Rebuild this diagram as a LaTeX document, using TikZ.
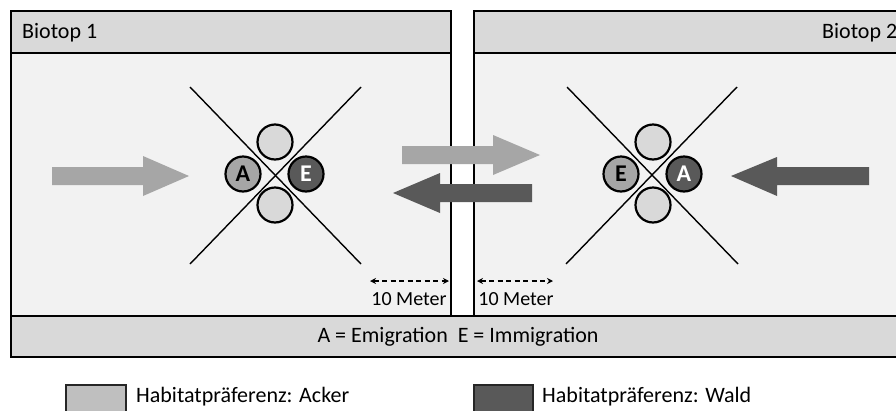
\documentclass[tikz,border=0pt]{standalone}
\usepackage{fontspec}
\setmainfont{Carlito}
\usetikzlibrary{arrows.meta}
\definecolor{bgin}{HTML}{F2F2F2}
\definecolor{hdr}{HTML}{D9D9D9}
\definecolor{lightc}{HTML}{A6A6A6}
\definecolor{darkc}{HTML}{595959}
\definecolor{legl}{HTML}{BFBFBF}
\tikzset{
  boxline/.style={draw=black, line width=2.5pt},
  crossline/.style={draw=black, line width=1.4pt},
  lightarrow/.style={fill=lightc, draw=none},
  darkarrow/.style={fill=darkc, draw=none},
  pcirc/.style={circle, draw=black, line width=2.2pt, minimum size=35pt, inner sep=0pt, font=\fontsize{24}{26}\selectfont\bfseries},
  dimarrow/.style={draw=black, line width=1.1pt, dash pattern=on 5pt off 3.5pt, {Stealth[length=6pt,width=6pt,open]}-{Stealth[length=6pt,width=6pt,open]}},
  dimtext/.style={font=\fontsize{20}{22}\selectfont, inner sep=0pt},
  hdrtext/.style={font=\fontsize{22}{24}\selectfont, inner sep=0pt},
  legbox/.style={draw=black!85, line width=2pt},
}
\begin{document}
\begin{tikzpicture}[x=1pt,y=-1pt]
\useasboundingbox (0,0) rectangle (896,410);
\clip (0,0) rectangle (896,410);
\fill[white] (0,0) rectangle (896,410);
% left biotop
\path[fill=bgin] (11,11) rectangle (451,316);
\path[boxline, fill=hdr] (11,11) rectangle (451,53);
\draw[boxline] (11,11) rectangle (451,316);
% right biotop
\path[fill=bgin] (474,11) rectangle (910,316);
\path[boxline, fill=hdr] (474,11) rectangle (910,53);
\draw[boxline] (474,11) rectangle (910,316);
% bottom band
\path[boxline, fill=hdr] (11,316) rectangle (910,357);
\node[hdrtext, anchor=west] (t1) at (22,33) {Biotop 1};
\node[hdrtext, anchor=west] (t2) at (822,33) {Biotop 2};
\node[hdrtext] (leg) at (458,337) {A = Emigration\ \ E = Immigration};
% left cross
\coordinate (L1a) at (190,87); \coordinate (L1b) at (361,264);
\coordinate (L2a) at (361,87); \coordinate (L2b) at (190,264);
\draw[crossline] (L1a) -- (L1b);
\draw[crossline] (L2a) -- (L2b);
\node[pcirc, fill=hdr] (Ltop) at (275,142) {};
\node[pcirc, fill=hdr] (Lbot) at (275,205) {};
\node[pcirc, fill=lightc, text=black] (LA) at (243,174) {A};
\node[pcirc, fill=darkc, text=white] (LE) at (306,174) {E};
% right cross
\coordinate (R1a) at (567,87); \coordinate (R1b) at (738,264);
\coordinate (R2a) at (737,87); \coordinate (R2b) at (566,264);
\draw[crossline] (R1a) -- (R1b);
\draw[crossline] (R2a) -- (R2b);
\node[pcirc, fill=hdr] (Rtop) at (653,142) {};
\node[pcirc, fill=hdr] (Rbot) at (653,205) {};
\node[pcirc, fill=lightc, text=black] (RE) at (621,174) {E};
\node[pcirc, fill=darkc, text=white] (RA) at (684,174) {A};
% block arrows
\path[lightarrow] (52,167) -- (143,167) -- (143,156) -- (189,176) -- (143,196) -- (143,185) -- (52,185) -- cycle;
\path[darkarrow] (869,167) -- (777,167) -- (777,157) -- (731,176) -- (777,196) -- (777,185) -- (869,185) -- cycle;
\path[lightarrow] (402,146) -- (493,146) -- (493,135) -- (540,155) -- (493,175) -- (493,164) -- (402,164) -- cycle;
\path[darkarrow] (532,184) -- (440,184) -- (440,173) -- (393,193) -- (440,213) -- (440,202) -- (532,202) -- cycle;
% distance markers
\coordinate (d1a) at (370,281); \coordinate (d1b) at (449,281);
\coordinate (d2a) at (477,281); \coordinate (d2b) at (553,281);
\draw[dimarrow] (d1a) -- (d1b);
\draw[dimarrow] (d2a) -- (d2b);
\node[dimtext] (m1) at (409,299) {10 Meter};
\node[dimtext] (m2) at (516,299) {10 Meter};
% legend
\path[legbox, fill=legl] (66,385) rectangle (126,414);
\path[legbox, fill=darkc] (474,385) rectangle (533,414);
\node[hdrtext, anchor=west] (lg1) at (136,397) {Habitatpräferenz: Acker};
\node[hdrtext, anchor=west] (lg2) at (542,397) {Habitatpräferenz: Wald};
\end{tikzpicture}
\end{document}
